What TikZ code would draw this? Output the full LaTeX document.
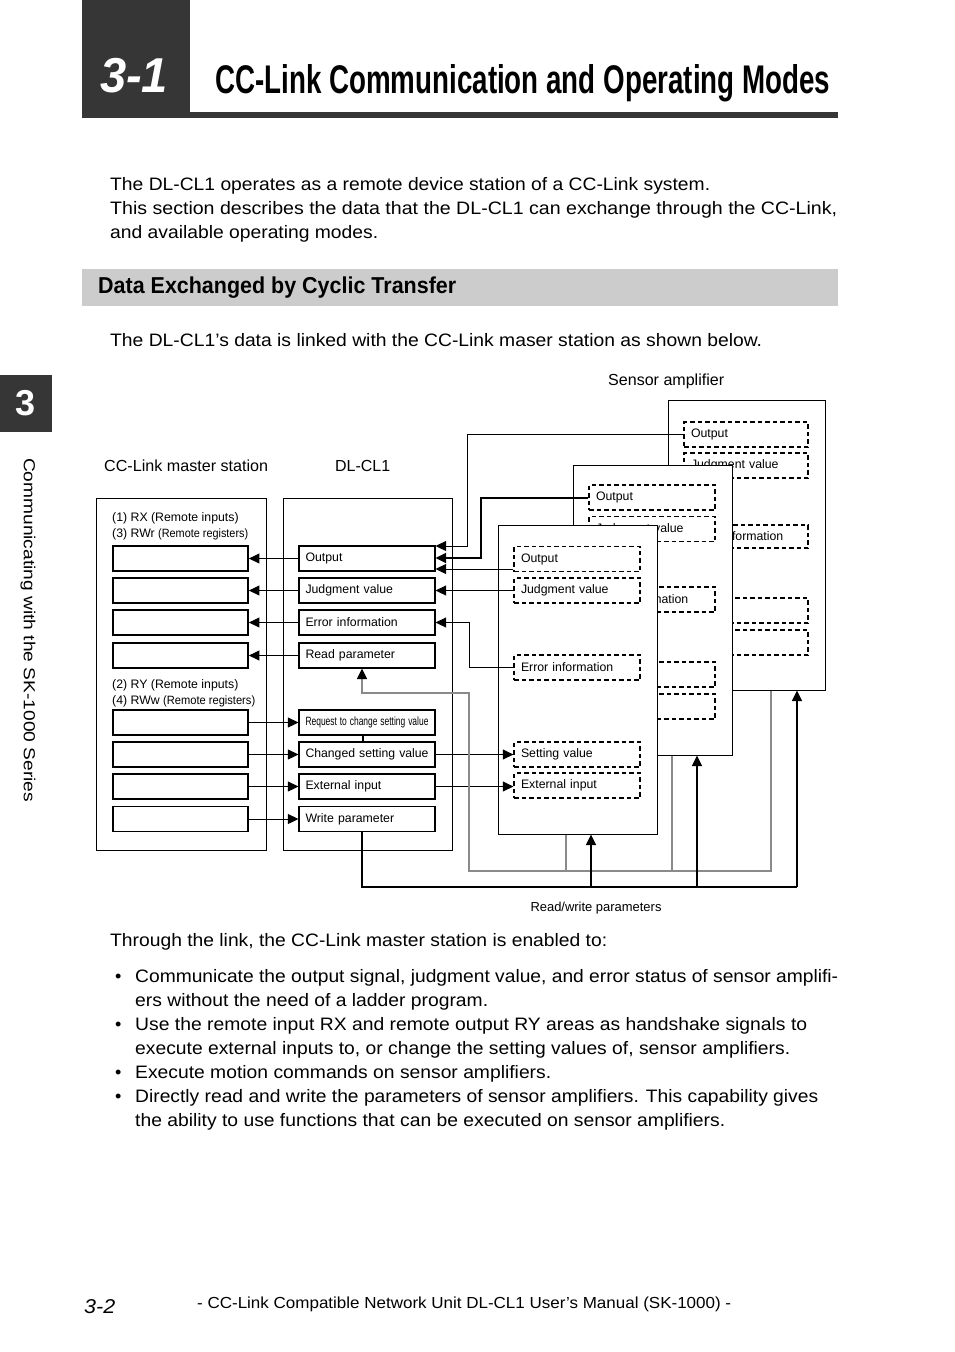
\documentclass[tikz,border=0pt]{standalone}
\usepackage{fontspec}
\usepackage{graphicx}
\setmainfont{Liberation Sans}
\usetikzlibrary{arrows.meta}
\newcommand{\fitw}[2]{\resizebox{#1pt}{\height}{#2}}
\definecolor{darkhd}{HTML}{363636}
\definecolor{barg}{HTML}{CCCCCC}
\definecolor{busg}{HTML}{8A8A8A}
\tikzset{
  txt/.style={anchor=base west, inner sep=0pt, font=\fontsize{18}{22}\selectfont},
  dlab/.style={anchor=base west, inner sep=0pt, font=\fontsize{16}{18}\selectfont},
  slab/.style={anchor=base west, inner sep=0pt, font=\fontsize{12.3}{14}\selectfont},
  arr/.style={-{Triangle[length=10.5pt,width=10pt]}, line width=1pt},
  mbox/.style={draw, line width=1.8pt, minimum width=135pt, minimum height=25pt, inner sep=0pt},
  dbox/.style={draw, line width=1.2pt, text width=123pt, inner xsep=6.5pt, inner ysep=0pt, minimum height=25pt, align=left, font=\fontsize{12.3}{14}\selectfont},
  outerbox/.style={draw, line width=1pt, inner sep=0pt},
  ampbox/.style={draw, line width=1pt, fill=white, inner sep=0pt},
  sbox/.style={draw, dash pattern=on 4.5pt off 3pt, line width=1.3pt, text width=112pt, inner xsep=7pt, inner ysep=0pt, minimum height=25pt, align=left, font=\fontsize{12.3}{14}\selectfont},
  gbus/.style={draw=busg, line width=1.5pt},
  wbus/.style={draw=black, line width=2.2pt},
}
\begin{document}
\begin{tikzpicture}[x=1pt,y=-1pt]
\useasboundingbox[fill=white] (0,0) rectangle (954,1352);

% ---------- header ----------
\fill[darkhd] (82,0) rectangle (190,118);
\fill[darkhd] (190,112) rectangle (838,118);
\node[anchor=base, inner sep=0pt, text=white, font=\fontsize{49}{49}\selectfont\bfseries\itshape] (num) at (134,92) {\fitw{68}{3-1}};
\node[anchor=base west, inner sep=0pt, font=\fontsize{40}{44}\selectfont\bfseries] (title) at (215,93) {\fitw{615}{CC-Link Communication and Operating Modes}};

% ---------- side tab ----------
\fill[darkhd] (0,375) rectangle (52,432);
\node[anchor=base, inner sep=0pt, text=white, font=\fontsize{36}{36}\selectfont\bfseries] (tab) at (26,415) {3};
\node[rotate=-90, inner sep=0pt, font=\fontsize{16}{18}\selectfont] (side) at (28,630) {\fitw{344}{Communicating with the SK-1000 Series}};

% ---------- intro text ----------
\node[txt] (p1) at (110,190.5) {\fitw{600}{The DL-CL1 operates as a remote device station of a CC-Link system.}};
\node[txt] (p2) at (110,214.5) {\fitw{727}{This section describes the data that the DL-CL1 can exchange through the CC-Link,}};
\node[txt] (p3) at (110,238.5) {\fitw{268}{and available operating modes.}};

\fill[barg] (82,269) rectangle (838,306);
\node[anchor=base west, inner sep=0pt, font=\fontsize{23}{26}\selectfont\bfseries] (sec) at (98,293) {\fitw{358}{Data Exchanged by Cyclic Transfer}};

\node[txt] (p4) at (110,346.5) {\fitw{652}{The DL-CL1{\char"27}s data is linked with the CC-Link maser station as shown below.}};

% ---------- diagram labels ----------
\node[dlab] (lsens) at (608,385.5) {\fitw{116}{Sensor amplifier}};
\node[dlab] (lmast) at (104,471.5) {\fitw{164}{CC-Link master station}};
\node[dlab] (ldl) at (335,471.5) {\fitw{55}{DL-CL1}};
\node[anchor=base, inner sep=0pt, font=\fontsize{13}{15}\selectfont] (lrw) at (596,911) {\fitw{131}{Read/write parameters}};

% ---------- master station ----------
\node[outerbox, minimum width=170pt, minimum height=352pt] (mst) at (181,674) {};
\node[slab] (rx) at (112,521.5) {(1) RX (Remote inputs)};
\node[slab] (rwr) at (112,537.5) {(3) RWr \fitw{90}{\fontsize{12}{14}\selectfont(Remote registers)}};
\node[slab] (ry) at (112,688.5) {(2) RY (Remote inputs)};
\node[slab] (rww) at (112,704.5) {(4) RWw \fitw{92}{\fontsize{12}{14}\selectfont(Remote registers)}};
\node[mbox] (m1) at (180.5,558.5) {};
\node[mbox] (m2) at (180.5,590.5) {};
\node[mbox] (m3) at (180.5,622.5) {};
\node[mbox] (m4) at (180.5,655.5) {};
\node[mbox] (m5) at (180.5,722.5) {};
\node[mbox] (m6) at (180.5,754.5) {};
\node[mbox] (m7) at (180.5,786.5) {};
\node[mbox] (m8) at (180.5,819) {};

% ---------- DL-CL1 ----------
\node[outerbox, minimum width=169pt, minimum height=352pt] (dl) at (367.5,674) {};
\node[dbox] (d1) at (367,558.5) {Output};
\node[dbox] (d2) at (367,590.5) {Judgment value};
\node[dbox] (d3) at (367,622.5) {Error information};
\node[dbox] (d4) at (367,655.5) {Read parameter};
\node[dbox] (d5) at (367,722.5) {\fitw{123}{\fontsize{12}{14}\selectfont Request to change setting value}};
\node[dbox] (d6) at (367,754.5) {\fitw{123}{Changed setting value}};
\node[dbox] (d7) at (367,786.5) {External input};
\node[dbox] (d8) at (367,819) {Write parameter};

% ---------- sensor amplifiers (back to front) ----------
\node[ampbox, minimum width=157pt, minimum height=290pt] (A3) at (746.5,545) {};
\node[sbox, text width=110pt] (b3o) at (746,434.5) {Output};
\node[sbox, text width=110pt] (b3j) at (746,465.5) {Judgment value};
\node[sbox, text width=110pt, minimum height=23pt] (b3e) at (746,536.5) {Error information};
\node[sbox, text width=110pt] (b3s) at (746,610.5) {};
\node[sbox, text width=110pt] (b3x) at (746,642.5) {};

\node[ampbox, minimum width=159pt, minimum height=290pt] (A2) at (652.5,610) {};
\node[sbox] (b2o) at (652,497.5) {Output};
\node[sbox] (b2j) at (652,529) {Judgment value};
\node[sbox] (b2e) at (652,599.5) {Error information};
\node[sbox] (b2s) at (652,674.5) {};
\node[sbox] (b2x) at (652,706.5) {};

\node[ampbox, minimum width=159pt, minimum height=309pt] (A1) at (577.5,679.5) {};
\node[sbox] (b1o) at (577,559) {Output};
\node[sbox] (b1j) at (577,590.5) {Judgment value};
\node[sbox] (b1e) at (577,667.5) {Error information};
\node[sbox] (b1s) at (577,754.5) {Setting value};
\node[sbox] (b1x) at (577,785.5) {External input};

% ---------- connectors: DL-CL1 -> master ----------
\draw[arr] (d1.west) -- (m1.east);
\draw[arr] (d2.west) -- (m2.east);
\draw[arr] (d3.west) -- (m3.east);
\draw[arr] (d4.west) -- (m4.east);
\draw[arr] (m5.east) -- (d5.west);
\draw[arr] (m6.east) -- (d6.west);
\draw[arr] (m7.east) -- (d7.west);
\draw[arr] (m8.east) -- (d8.west);
\coordinate (lk) at (363,0);
\draw[line width=2pt] (d5.south -| lk) -- (d6.north -| lk);

% ---------- connectors: amplifiers -> DL-CL1 ----------
\coordinate (c3) at (467,546);
\coordinate (c2) at (481,558);
\coordinate (c1) at (500,569);
\coordinate (ce) at (469,640);
\draw[arr] (b3o.west) -| (c3) -- (c3 -| d1.east);
\draw[arr, line width=2pt] (b2o.west) -| (c2) -- (c2 -| d1.east);
\draw[arr] (b1o.west |- c1) -- (d1.east |- c1);
\draw[arr] (b1j.west) -- (d2.east |- b1j.west);
\draw[arr] (b1e.west) -| (ce |- d3.east) -- (d3.east);
\draw[arr] (d6.east) -- (b1s.west);
\draw[arr] (d7.east) -- (b1x.west |- d7.east);

% ---------- read bus (gray) ----------
\coordinate (r1) at (566,871);
\coordinate (r2) at (672,871);
\coordinate (r3) at (771,871);
\coordinate (rl) at (469,871);
\coordinate (ru) at (469,693);
\coordinate (rp) at (362,693);
\draw[gbus] (A1.south -| r1) -- (r1);
\draw[gbus] (A2.south -| r2) -- (r2);
\draw[gbus, -{Triangle[length=10.5pt,width=10pt,color=black]}] (A3.south -| r3) -- (r3) -- (rl) -- (ru) -- (rp) -- (d4.south -| rp);

% ---------- write bus (black, thick) ----------
\coordinate (w0) at (362,887);
\coordinate (w1) at (591,887);
\coordinate (w2) at (697,887);
\coordinate (w3) at (797,887);
\draw[wbus, line join=miter] (d8.south -| w0) -- (w0) -- (w3);
\draw[arr, line width=1.3pt] (w1) -- (A1.south -| w1);
\draw[arr, line width=1.3pt] (w2) -- (A2.south -| w2);
\draw[arr, line width=1.3pt] (w3) -- (A3.south -| w3);

% ---------- closing text ----------
\node[txt] (q0) at (110,946.5) {\fitw{497}{Through the link, the CC-Link master station is enabled to:}};
\node[txt] (bu1) at (115,982.5) {•};
\node[txt] (q1) at (135,982.5) {\fitw{703}{Communicate the output signal, judgment value, and error status of sensor amplifi-}};
\node[txt] (q2) at (135,1006.5) {\fitw{353}{ers without the need of a ladder program.}};
\node[txt] (bu2) at (115,1030.5) {•};
\node[txt] (q3) at (135,1030.5) {\fitw{672}{Use the remote input RX and remote output RY areas as handshake signals to}};
\node[txt] (q4) at (135,1054.5) {\fitw{655}{execute external inputs to, or change the setting values of, sensor amplifiers.}};
\node[txt] (bu3) at (115,1078.5) {•};
\node[txt] (q5) at (135,1078.5) {\fitw{416}{Execute motion commands on sensor amplifiers.}};
\node[txt] (bu4) at (115,1102.5) {•};
\node[txt] (q6) at (135,1102.5) {\fitw{683}{Directly read and write the parameters of sensor amplifiers. This capability gives}};
\node[txt] (q7) at (135,1126.5) {\fitw{590}{the ability to use functions that can be executed on sensor amplifiers.}};

% ---------- footer ----------
\node[anchor=base west, inner sep=0pt, font=\fontsize{20}{22}\selectfont\itshape] (pg) at (84,1313) {\fitw{31}{3-2}};
\node[anchor=base west, inner sep=0pt, font=\fontsize{16}{18}\selectfont] (foot) at (197,1308) {\fitw{534}{- CC-Link Compatible Network Unit DL-CL1 User’s Manual (SK-1000) -}};
\end{tikzpicture}
\end{document}
